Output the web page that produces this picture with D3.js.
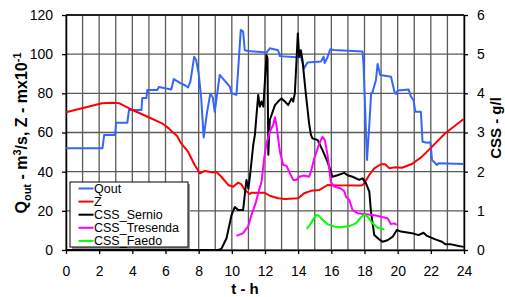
<!DOCTYPE html>
<html lang="en">
<head>
  <meta charset="UTF-8">
  <title>Qout, Z and CSS</title>
  <script src="https://d3js.org/d3.v7.min.js"></script>
  <style>
    body { margin: 0; padding: 0; background: #fff; }
    svg { display: block; font-family: "Liberation Sans", Arial, sans-serif; }
  </style>
</head>
<body>
  <svg id="chart"></svg>
  <script>
    // hours (x) / values
    const qout = [[0,52],[1,52],[2.2,52],[2.3,58.7],[2.96,58.7],[3.02,65],[3.7,65],[3.8,71.5],[4.55,71.5],[4.6,77.6],
      [4.85,77.6],[4.9,81.7],[5.5,81.7],[5.6,83.2],[6.35,82],[6.5,87.3],[6.9,85.2],[7.2,84],[7.36,83],[7.5,86],
      [7.73,98.7],[7.85,97],[8.0,90],[8.15,78],[8.3,57.5],[8.5,70],[8.7,79.7],[8.85,78],[8.97,70.6],[9.27,89.4],
      [9.88,83.4],[9.98,80],[10.28,79.2],[10.54,112.4],[10.68,111.5],[10.78,102],[10.98,101.6],[12.09,100.8],[12.29,103],
      [12.79,102],[12.9,99],[13.9,98.4],[14.16,98.7],[14.36,92.8],[14.56,95.7],[15.37,96.2],[15.53,98.7],[15.6,95.5],
      [15.77,98.4],[15.93,102.5],[16.17,102.1],[17.88,101.3],[17.94,95],[18.15,46],[18.29,63.8],[18.4,80],[18.48,80.5],
      [18.69,86.8],[18.79,95],[18.95,89.4],[19.6,88.5],[19.8,80.9],[19.9,79.7],[20.0,81.4],[20.66,82],[20.8,78.3],
      [20.96,76.6],[21.06,70.6],[21.4,70.6],[21.5,55.3],[21.77,54.8],[21.97,55],[22.02,51],[22.07,46],[22.27,44.3],
      [22.37,43.4],[22.47,44.3],[24,43.9]];

    const zLevel = [[0,70.3],[0.97,72.4],[2.17,74.9],[2.78,75.2],[3.2,75],[3.78,72.4],[4.99,67.8],[5.79,64.7],[6.2,62.1],
      [6.4,60.4],[6.7,58.2],[6.9,55],[7.36,50.2],[7.76,43.4],[8.07,39.2],[8.37,40.4],[8.77,39.7],[9.07,39.8],[9.37,37.4],
      [9.78,33.2],[10.08,32.3],[10.38,34.4],[10.58,33.5],[10.78,30.6],[11.08,28.6],[11.18,29.2],[11.99,29.2],[12.29,27.7],
      [12.79,26.4],[13.2,26],[14,26.4],[14.36,29],[14.77,30.2],[15.27,30.6],[15.77,33.2],[16.37,33],[17.78,32.9],
      [17.94,33.5],[18.29,38.3],[18.59,41.7],[18.99,43.8],[19.25,43.8],[19.5,41.7],[19.8,42.2],[20.26,42],[20.86,43.9],
      [21.47,47.7],[21.97,51.9],[22.87,59.6],[23.98,66.9]];

    const cssSernio = [[0,0],[4.0,0],[4.05,0.04],[4.1,0],[9.17,0],[9.37,0.03],[9.68,0.3],[9.98,0.89],[10.18,1.1],
      [10.38,1.02],[10.68,1.02],[10.78,1.4],[10.88,1.79],[11.0,1.57],[11.1,1.91],[11.29,2.68],[11.39,2.94],[11.59,3.96],
      [11.69,3.66],[11.79,3.79],[11.9,3.66],[12.09,4.98],[12.15,4.9],[12.2,2.43],[12.29,3.32],[12.6,3.7],[12.79,3.79],
      [12.99,3.87],[13.2,3.79],[13.4,3.7],[13.6,3.87],[13.7,3.79],[13.8,4.0],[13.86,4.5],[13.98,5.53],[14.06,4.93],
      [14.16,5.1],[14.26,4.85],[14.46,4.0],[14.66,3.23],[14.77,2.94],[14.86,2.85],[15.17,2.81],[15.47,2.55],[15.77,2.25],
      [15.97,2.0],[16.07,1.87],[16.37,1.91],[16.78,1.97],[16.98,1.91],[17.28,1.87],[17.68,1.79],[17.88,1.83],[18.09,1.7],
      [18.29,1.49],[18.39,0.98],[18.59,0.38],[18.89,0.27],[19.09,0.21],[19.39,0.25],[19.7,0.34],[19.95,0.51],[20.2,0.47],
      [20.86,0.43],[21.26,0.38],[21.56,0.44],[21.77,0.36],[22.27,0.27],[22.67,0.21],[22.87,0.15],[23.17,0.15],
      [23.68,0.1],[23.98,0.08]];

    const cssTresenda = [[10.28,0.36],[10.68,0.43],[10.98,0.6],[11.18,0.89],[11.43,1.19],[11.59,1.45],[11.79,1.74],
      [11.95,2.34],[12.09,2.72],[12.29,3.02],[12.49,3.19],[12.6,3.39],[12.69,3.19],[12.9,2.51],[13.1,2.17],[13.3,2.15],
      [13.5,1.96],[13.7,1.79],[13.9,1.79],[14.06,1.87],[14.36,1.9],[14.66,1.87],[14.77,2.0],[14.97,2.34],[15.27,2.72],
      [15.47,2.89],[15.61,2.8],[15.77,2.43],[15.97,1.74],[16.17,1.62],[16.58,1.57],[16.78,1.5],[16.88,1.36],[17.08,1.28],
      [17.28,1.02],[17.58,0.94],[17.98,0.92],[18.59,0.89],[18.99,0.85],[19.39,0.81],[19.6,0.66],[19.8,0.68],[19.94,0.64]];

    const cssFaedo = [[14.52,0.54],[14.77,0.68],[15.07,0.89],[15.21,0.89],[15.47,0.77],[15.77,0.66],[16.17,0.6],
      [16.58,0.58],[17.08,0.61],[17.48,0.68],[17.78,0.83],[17.98,0.91],[18.18,0.85],[18.49,0.68],[18.79,0.57],
      [19.09,0.54],[19.2,0.52]];

    const xTicks = d3.range(0, 25, 2);
    const xGrid = d3.range(0, 25, 1);
    const yTicks = [0, 20, 40, 60, 80, 100, 120];
    const y2Ticks = [0, 1, 2, 3, 4, 5, 6];

    const series = [
      { name: "Qout", data: qout, color: "#3366ff", axis: "left" },
      { name: "Z", data: zLevel, color: "#ff0000", axis: "left" },
      { name: "CSS_Sernio", data: cssSernio, color: "#000000", axis: "right" },
      { name: "CSS_Tresenda", data: cssTresenda, color: "#ff00ff", axis: "right" },
      { name: "CSS_Faedo", data: cssFaedo, color: "#00ff00", axis: "right" }
    ];

    const FONT = "'Liberation Sans', Arial, sans-serif";
    const width = 505, height = 297;
    const plotL = 66, plotR = 464, plotT = 15, plotB = 250;

    const svg = d3.select("#chart").attr("width", width).attr("height", height)
      .attr("font-family", FONT);

    const x = d3.scaleLinear().domain([0, 24]).range([plotL, plotR]);
    const y = d3.scaleLinear().domain([0, 120]).range([plotB, plotT]);
    const y2 = d3.scaleLinear().domain([0, 6]).range([plotB, plotT]);

    // grid
    svg.append("g").selectAll("line").data(xGrid).join("line")
      .attr("x1", d => x(d)).attr("x2", d => x(d))
      .attr("y1", plotT).attr("y2", plotB)
      .attr("stroke", "#5a5a5a").attr("stroke-width", 1.3);
    svg.append("g").selectAll("line").data(yTicks).join("line")
      .attr("x1", plotL).attr("x2", plotR)
      .attr("y1", d => y(d)).attr("y2", d => y(d))
      .attr("stroke", "#5a5a5a").attr("stroke-width", 1.3);

    // axes
    const axisStyle = g => {
      g.attr("font-family", FONT).attr("font-size", 14);
      g.selectAll(".domain").attr("stroke", "#000").attr("stroke-width", 1.5);
      g.selectAll(".tick line").attr("stroke", "#000").attr("stroke-width", 1.3);
      g.selectAll(".tick text").attr("fill", "#000");
    };

    svg.append("g").attr("transform", `translate(0,${plotB})`)
      .call(d3.axisBottom(x).tickValues(xTicks).tickFormat(d3.format("d")).tickSize(4).tickPadding(12).tickSizeOuter(0))
      .call(axisStyle);
    svg.append("g").attr("transform", `translate(${plotL},0)`)
      .call(d3.axisLeft(y).tickValues(yTicks).tickFormat(d3.format("d")).tickSize(4).tickPadding(9).tickSizeOuter(0))
      .call(axisStyle);
    svg.append("g").attr("transform", `translate(${plotR},0)`)
      .call(d3.axisRight(y2).tickValues(y2Ticks).tickFormat(d3.format("d")).tickSize(4).tickPadding(9).tickSizeOuter(0))
      .call(axisStyle);
    svg.append("line").attr("x1", plotL).attr("x2", plotR).attr("y1", plotT).attr("y2", plotT)
      .attr("stroke", "#000").attr("stroke-width", 1.5);

    // lines
    const lineL = d3.line().x(d => x(d[0])).y(d => y(d[1]));
    const lineR = d3.line().x(d => x(d[0])).y(d => y2(d[1]));
    svg.append("g").selectAll("path").data(series).join("path")
      .attr("d", s => (s.axis === "left" ? lineL : lineR)(s.data))
      .attr("fill", "none")
      .attr("stroke", s => s.color)
      .attr("stroke-width", 2)
      .attr("stroke-linejoin", "round");

    // legend
    const lg = svg.append("g");
    lg.append("rect").attr("x", 72).attr("y", 184).attr("width", 118).attr("height", 65).attr("fill", "#999");
    lg.append("rect").attr("x", 70).attr("y", 182).attr("width", 118).attr("height", 65)
      .attr("fill", "#fff").attr("stroke", "#000").attr("stroke-width", 1);
    const items = lg.selectAll("g.item").data(series).join("g").attr("class", "item")
      .attr("transform", (d, i) => `translate(0,${188.5 + i * 13.1})`);
    items.append("line").attr("x1", 78.5).attr("x2", 93.5)
      .attr("stroke", d => d.color).attr("stroke-width", 2);
    items.append("text").attr("x", 94).attr("y", 4.5).attr("font-size", 12.5).text(d => d.name);

    // axis titles
    svg.append("text").attr("x", 245).attr("y", 294).attr("text-anchor", "middle")
      .attr("font-size", 15).attr("font-weight", "bold").text("t - h");

    const yt = svg.append("text").attr("transform", "translate(27,133) rotate(-90)")
      .attr("text-anchor", "middle").attr("font-size", 16).attr("font-weight", "bold");
    yt.append("tspan").text("Q");
    yt.append("tspan").attr("font-size", 11).attr("dy", 4).text("out");
    yt.append("tspan").attr("dy", -4).text(" - m");
    yt.append("tspan").attr("font-size", 11).attr("dy", -6).text("3");
    yt.append("tspan").attr("dy", 6).text("/s,   Z - mx10");
    yt.append("tspan").attr("font-size", 11).attr("dy", -6).text("-1");

    svg.append("text").attr("transform", "translate(501,128) rotate(-90)")
      .attr("text-anchor", "middle").attr("font-size", 15).attr("font-weight", "bold")
      .text("CSS - g/l");
  </script>
</body>
</html>
